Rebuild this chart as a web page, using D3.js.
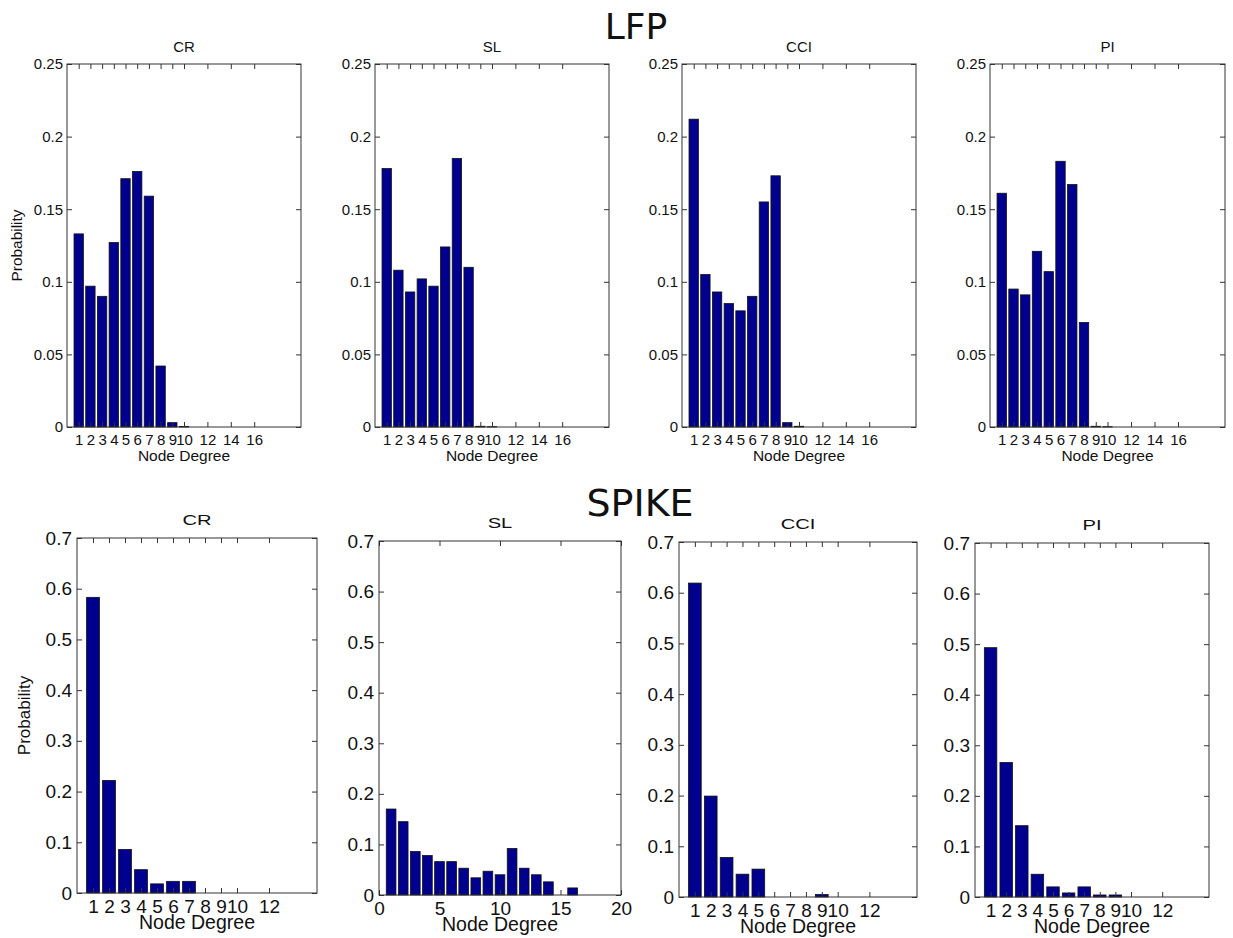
<!DOCTYPE html>
<html>
<head>
<meta charset="utf-8">
<script src="https://cdn.jsdelivr.net/npm/d3@7"></script>
<style>
  body { margin: 0; background: #fff; }
  svg text { font-family: "Liberation Sans", Arial, Helvetica, sans-serif; fill: #111; }
</style>
</head>
<body>
<svg id="chart" width="1233" height="938"></svg>
<script>
// Node degree distributions (probability per degree, starting at degree 1)
const regions = ["CR", "SL", "CCI", "PI"];

const lfpCR  = [0.133, 0.097, 0.090, 0.127, 0.171, 0.176, 0.159, 0.042, 0.003, 0.0003];
const lfpSL  = [0.178, 0.108, 0.093, 0.102, 0.097, 0.124, 0.185, 0.110, 0.0005, 0.0002];
const lfpCCI = [0.212, 0.105, 0.093, 0.085, 0.080, 0.090, 0.155, 0.173, 0.003, 0.0005];
const lfpPI  = [0.161, 0.095, 0.091, 0.121, 0.107, 0.183, 0.167, 0.072, 0.0005, 0.0002];

const spikeCR  = [0.583, 0.222, 0.086, 0.046, 0.018, 0.023, 0.023];
const spikeSL  = [0.170, 0.145, 0.086, 0.078, 0.066, 0.066, 0.053, 0.034, 0.047, 0.040,
                  0.092, 0.053, 0.040, 0.026, 0, 0.014];
const spikeCCI = [0.619, 0.199, 0.078, 0.045, 0.055, 0, 0, 0, 0.005];
const spikePI  = [0.493, 0.266, 0.141, 0.045, 0.020, 0.008, 0.020, 0.004, 0.004];

const lfpTicksX      = [1, 2, 3, 4, 5, 6, 7, 8, 9, 10, 12, 14, 16];
const lfpTicksY      = [0, 0.05, 0.1, 0.15, 0.2, 0.25];
const spikeTicksX    = [1, 2, 3, 4, 5, 6, 7, 8, 9, 10, 12];
const spikeSLTicksX  = [0, 5, 10, 15, 20];
const spikeTicksY    = [0, 0.1, 0.2, 0.3, 0.4, 0.5, 0.6, 0.7];

const svg = d3.select("#chart");
const fmt = d => String(+d.toFixed(2));

// Row titles
svg.append("text").attr("x", 636).attr("y", 39).attr("text-anchor", "middle")
  .style("font-family", "'DejaVu Sans', sans-serif").style("font-size", "36px").text("LFP");
svg.append("text").attr("x", 640).attr("y", 516).attr("text-anchor", "middle")
  .style("font-family", "'DejaVu Sans', sans-serif").style("font-size", "38px").text("SPIKE");

const panels = [
  // LFP row
  { box: [67, 64, 301, 427],  data: lfpCR,  title: regions[0], xDom: [0, 20], xt: lfpTicksX, yDom: [0, 0.25], yt: lfpTicksY, row: 0, ylab: true },
  { box: [375, 64, 609, 427], data: lfpSL,  title: regions[1], xDom: [0, 20], xt: lfpTicksX, yDom: [0, 0.25], yt: lfpTicksY, row: 0 },
  { box: [682, 64, 916, 427], data: lfpCCI, title: regions[2], xDom: [0, 20], xt: lfpTicksX, yDom: [0, 0.25], yt: lfpTicksY, row: 0 },
  { box: [990, 64, 1225, 427], data: lfpPI, title: regions[3], xDom: [0, 20], xt: lfpTicksX, yDom: [0, 0.25], yt: lfpTicksY, row: 0 },
  // SPIKE row
  { box: [77, 538, 317, 893],  data: spikeCR,  title: regions[0], xDom: [0, 15], xt: spikeTicksX,   yDom: [0, 0.7], yt: spikeTicksY, row: 1, ylab: true },
  { box: [379, 541, 621, 895], data: spikeSL,  title: regions[1], xDom: [0, 20], xt: spikeSLTicksX, yDom: [0, 0.7], yt: spikeTicksY, row: 1 },
  { box: [679, 542, 917, 897], data: spikeCCI, title: regions[2], xDom: [0, 15], xt: spikeTicksX,   yDom: [0, 0.7], yt: spikeTicksY, row: 1 },
  { box: [975, 543, 1209, 897], data: spikePI, title: regions[3], xDom: [0, 15], xt: spikeTicksX,   yDom: [0, 0.7], yt: spikeTicksY, row: 1 }
];

const styleRow = [
  { tick: 15, label: 15.5, title: 15, titleScale: 1.0, ylabSize: 15.4, ylabX: 22, padX: 7.5, padY: 4, tickLen: 5, titleGap: 12, xlabGap: 34 },
  { tick: 19, label: 19.5, title: 15.5, titleScale: 1.3, ylabSize: 17, ylabX: 30, padX: 6.5, padY: 5, tickLen: 5, titleGap: 13, xlabGap: 36 }
];

panels.forEach(p => {
  const [x0, y0, x1, y1] = p.box;
  const st = styleRow[p.row];
  const w = x1 - x0, h = y1 - y0;
  const g = svg.append("g").attr("transform", `translate(${x0},${y0})`);

  const x = d3.scaleLinear().domain(p.xDom).range([0, w]);
  const y = d3.scaleLinear().domain(p.yDom).range([h, 0]);

  // bars (MATLAB-style width 0.8)
  g.selectAll("rect.bar").data(p.data.map((v, i) => ({ k: i + 1, v })))
    .enter().append("rect").attr("class", "bar")
    .attr("x", d => x(d.k - 0.4))
    .attr("width", d => x(d.k + 0.4) - x(d.k - 0.4))
    .attr("y", d => y(d.v))
    .attr("height", d => y(0) - y(d.v))
    .attr("fill", "#00008f")
    .attr("stroke", "#111")
    .attr("stroke-width", 0.8);

  // axes with inward ticks on all four sides
  const axB = g.append("g").attr("transform", `translate(0,${h})`)
    .call(d3.axisBottom(x).tickValues(p.xt).tickFormat(fmt).tickSizeInner(-st.tickLen).tickSizeOuter(0).tickPadding(st.padX));
  const axT = g.append("g")
    .call(d3.axisTop(x).tickValues(p.xt).tickFormat("").tickSizeInner(-st.tickLen).tickSizeOuter(0));
  const axL = g.append("g")
    .call(d3.axisLeft(y).tickValues(p.yt).tickFormat(fmt).tickSizeInner(-st.tickLen).tickSizeOuter(0).tickPadding(st.padY));
  const axR = g.append("g").attr("transform", `translate(${w},0)`)
    .call(d3.axisRight(y).tickValues(p.yt).tickFormat("").tickSizeInner(-st.tickLen).tickSizeOuter(0));

  [axB, axT, axL, axR].forEach(a => {
    a.select(".domain").remove();
    a.selectAll(".tick line").attr("stroke", "#333").attr("stroke-width", 1);
    a.selectAll("text").style("font-size", st.tick + "px").attr("fill", "#111");
  });

  // frame
  g.append("rect").attr("x", 0).attr("y", 0).attr("width", w).attr("height", h)
    .attr("fill", "none").attr("stroke", "#333").attr("stroke-width", 1);

  // subplot title
  g.append("text")
    .attr("transform", `translate(${w / 2},${-st.titleGap}) scale(${st.titleScale},1)`)
    .attr("text-anchor", "middle").style("font-size", st.title + "px").text(p.title);

  // x label
  g.append("text").attr("x", w / 2).attr("y", h + st.xlabGap).attr("text-anchor", "middle")
    .style("font-size", st.label + "px").text("Node Degree");

  // y label
  if (p.ylab) {
    svg.append("text")
      .attr("transform", `translate(${st.ylabX},${y0 + h / 2}) rotate(-90)`)
      .attr("text-anchor", "middle").style("font-size", st.ylabSize + "px").text("Probability");
  }
});
</script>
</body>
</html>
